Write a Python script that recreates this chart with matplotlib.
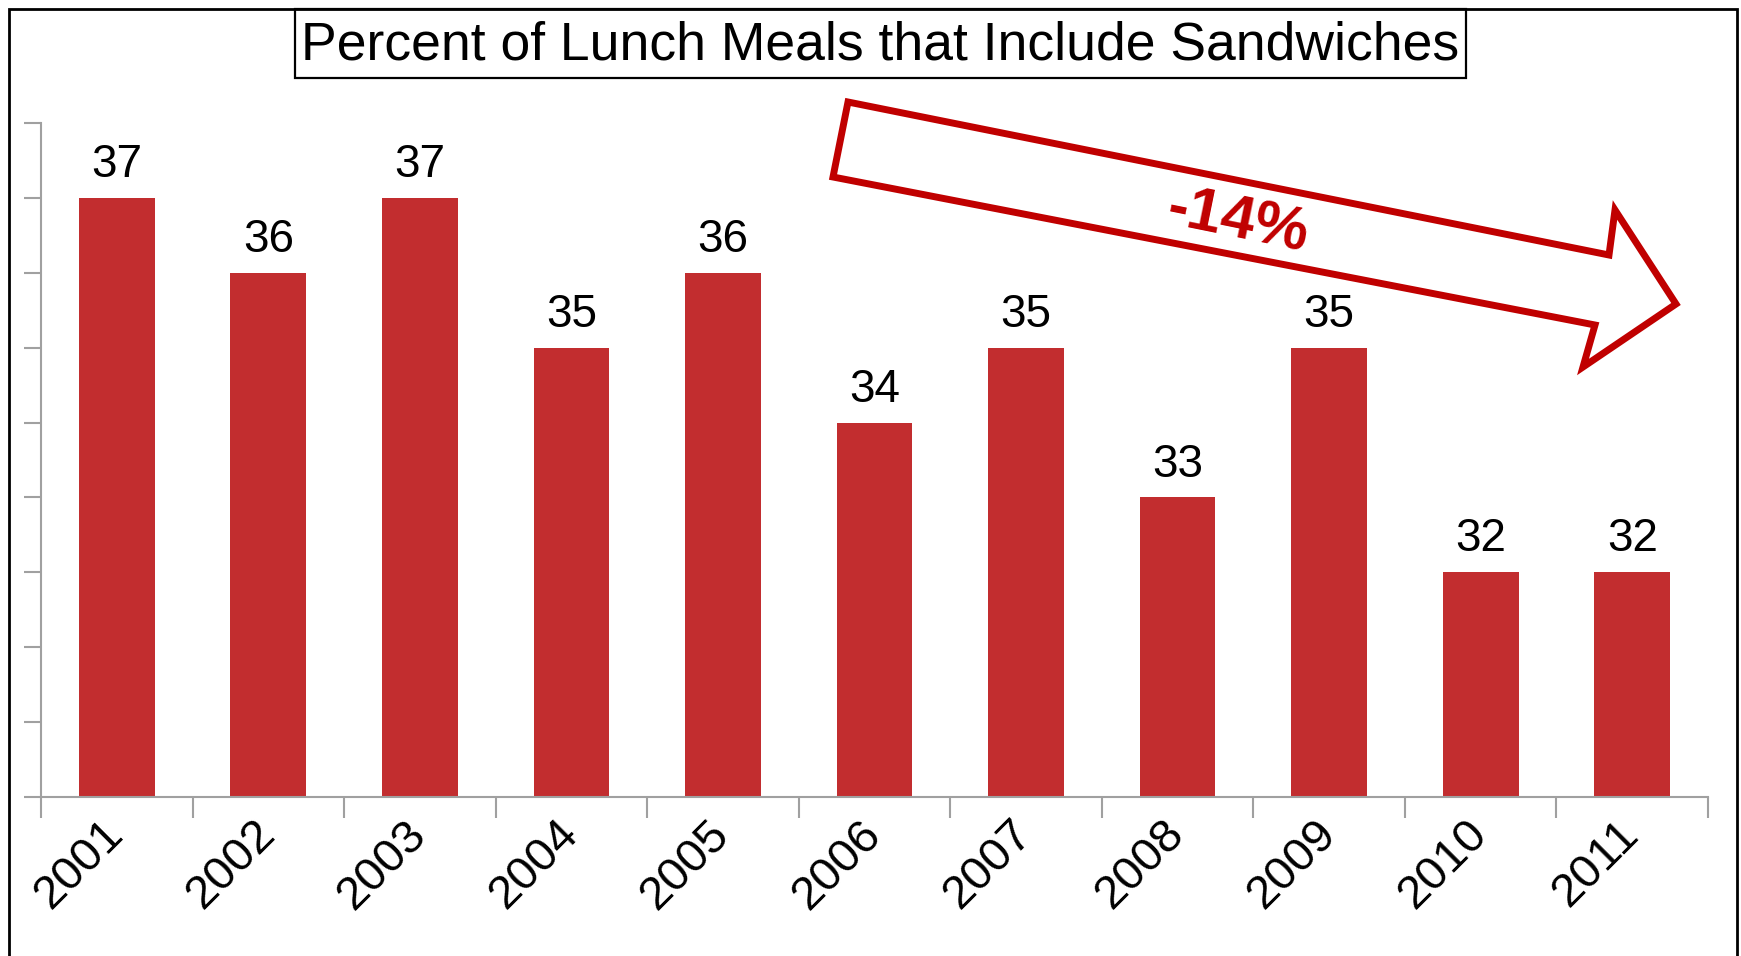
import matplotlib
matplotlib.use("Agg")
import matplotlib.pyplot as plt
from matplotlib.patches import Polygon, Rectangle
import numpy as np

plt.rcParams['font.family'] = ['Liberation Sans', 'DejaVu Sans']

years = ['2001', '2002', '2003', '2004', '2005', '2006',
         '2007', '2008', '2009', '2010', '2011']
pct = [37, 36, 37, 35, 36, 34, 35, 33, 35, 32, 32]
title = 'Percent of Lunch Meals that Include Sandwiches'
change_label = '-14%'

W, H = 1741, 956
fig = plt.figure(figsize=(W / 100, H / 100), dpi=100)
ax = fig.add_axes([41 / W, 1 - 797 / H, 1667 / W, 674 / H])

bar_color = '#C22D2F'
axis_gray = '#A0A0A0'
red = '#C00000'

x = np.arange(len(years))
ax.bar(x, pct, width=0.5, color=bar_color, zorder=2)

for xi, v in zip(x, pct):
    ax.annotate(str(v), (xi, v), xytext=(0, 15), textcoords='offset points',
                ha='center', va='baseline', fontsize=33, color='black')

ax.set_xlim(-0.5, len(years) - 0.5)
ax.set_ylim(29, 38)

# axes styling
for s in ['top', 'right']:
    ax.spines[s].set_visible(False)
for s in ['left', 'bottom']:
    ax.spines[s].set_color(axis_gray)
    ax.spines[s].set_linewidth(1.5)

ax.set_yticks(np.arange(29, 39))
ax.set_yticklabels([])
ax.tick_params(axis='y', length=12, width=1.5, color=axis_gray, direction='out')

ax.set_xticks(x)
ax.set_xticklabels(years, rotation=45, ha='right', va='center',
                   rotation_mode='anchor', fontsize=34)
ax.tick_params(axis='x', which='major', length=0, pad=22)
ax.set_xticks(np.arange(-0.5, len(years)), minor=True)
ax.tick_params(axis='x', which='minor', length=15, width=1.5,
               color=axis_gray, direction='out')

# outer frame
fig.patches.append(Rectangle((9 / W, -0.02), (1737 - 9) / W, 1.02 - 9 / H,
                             transform=fig.transFigure, fill=False,
                             edgecolor='black', linewidth=2, zorder=0))

# title box
fig.patches.append(Rectangle((295 / W, 1 - 78 / H), (1466 - 295) / W, 69 / H,
                             transform=fig.transFigure, fill=False,
                             edgecolor='black', linewidth=1.6))
fig.text(880 / W, 1 - 45 / H, title, ha='center', va='center', fontsize=38.5)

# block arrow showing the decline
arrow_px = [(848, 102), (1609, 255), (1615, 210), (1676, 304),
            (1583, 367), (1595, 325), (833, 177)]
arrow_fig = [(px / W, 1 - py / H) for px, py in arrow_px]
fig.patches.append(Polygon(arrow_fig, closed=True, fill=False, edgecolor=red,
                           linewidth=5, joinstyle='miter',
                           transform=fig.transFigure))
fig.text(1238 / W, 1 - 223 / H, change_label, ha='center', va='center',
         rotation=-11.5, fontsize=44, fontweight='bold', color=red)

fig.savefig('out.png', dpi=100)
